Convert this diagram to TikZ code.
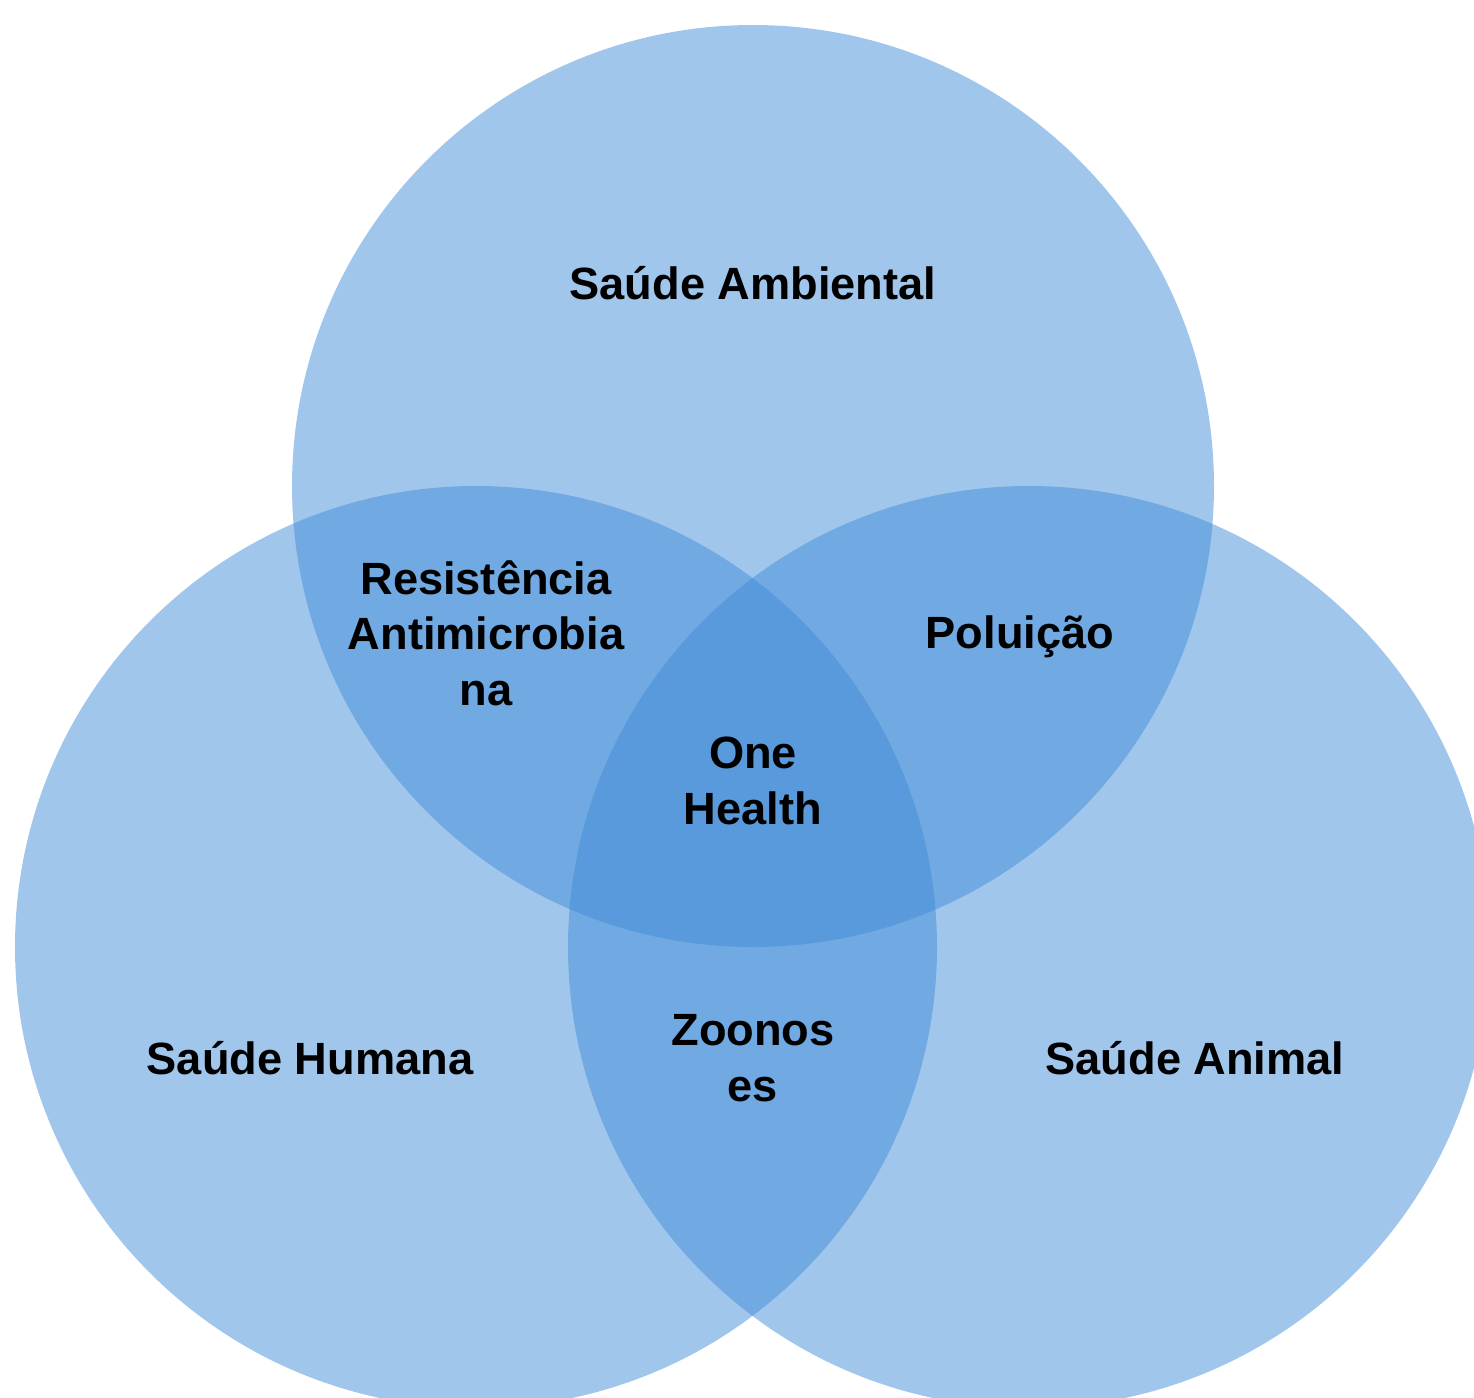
\documentclass[tikz,border=0pt]{standalone}
\usepackage{fontspec}
\setmainfont{Liberation Sans}
\definecolor{vennblue}{RGB}{63,139,216}
\begin{document}
\begin{tikzpicture}[x=0.5pt,y=-0.5pt,
  setcircle/.style={circle,inner sep=0pt,minimum size=461pt,fill=vennblue,fill opacity=0.49,draw=none},
  lbl/.style={font=\fontsize{22.6}{27.8}\selectfont\bfseries,align=center,text=black,inner sep=0pt}]
\useasboundingbox (0,0) rectangle (1474,1398);
\clip (0,0) rectangle (1474,1398);
\node[setcircle] (env) at (753,486) {};
\node[setcircle] (hum) at (476,947) {};
\node[setcircle] (ani) at (1029,947) {};
\node[lbl] (tenv) at (753,283) {Saúde Ambiental};
\node[lbl] (thum) at (310,1058) {Saúde Humana};
\node[lbl] (tani) at (1195,1058) {Saúde Animal};
\node[lbl] (tres) at (486,633) {Resistência\\Antimicrobia\\na};
\node[lbl] (tpol) at (1020,637) {Poluição};
\node[lbl] (tone) at (753,781) {One\\Health};
\node[lbl] (tzoo) at (753,1058) {Zoonos\\es};
\end{tikzpicture}
\end{document}
